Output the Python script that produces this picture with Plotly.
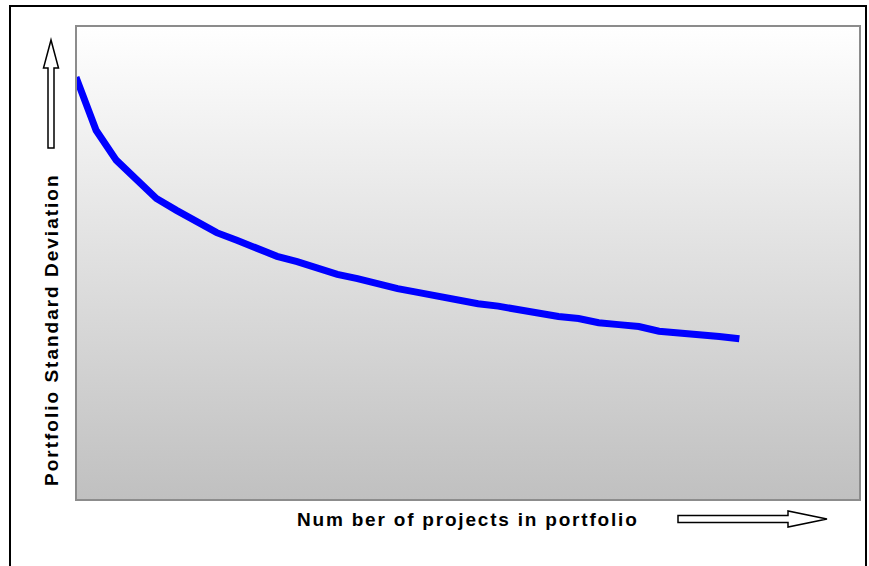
import plotly.graph_objects as go

# Number of projects held in the portfolio
projects = list(range(1, 35))

# Portfolio standard deviation (relative units, 0-100 scale)
std_dev = [89.2, 78.0, 71.7, 67.7, 63.6, 61.1, 58.6, 56.4, 54.8, 53.1,
           51.4, 50.3, 48.8, 47.6, 46.7, 45.5, 44.6, 43.8, 42.9, 42.1,
           41.4, 40.9, 40.1, 39.4, 38.7, 38.3, 37.4, 37.0, 36.6, 35.6,
           35.3, 34.9, 34.5, 34.0]

x_range = [1, 40]
y_range = [0, 100]

x_title = "Num ber of projects in portfolio"
y_title = "Portfolio Standard Deviation"

W, H = 869, 566
PLOT_L, PLOT_R, PLOT_T, PLOT_B = 76, 860, 26, 500


def px(x):
    return x / W


def py(y):
    return 1 - y / H


fig = go.Figure()

# Plot-area background: vertical grey gradient
fig.add_trace(go.Scatter(
    x=[x_range[0], x_range[1], x_range[1], x_range[0], x_range[0]],
    y=[y_range[0], y_range[0], y_range[1], y_range[1], y_range[0]],
    mode="lines", line=dict(width=0), fill="toself",
    fillgradient=dict(type="vertical",
                      colorscale=[[0, "#c0c0c0"], [1, "#ffffff"]]),
    hoverinfo="skip", showlegend=False,
))

# Diversification curve
fig.add_trace(go.Scatter(
    x=projects, y=std_dev, mode="lines",
    line=dict(color="#0000ff", width=7),
    showlegend=False,
))

shapes = []
# plot-area frame
shapes.append(dict(type="rect", xref="paper", yref="paper",
                   x0=px(PLOT_L), x1=px(PLOT_R), y0=py(PLOT_B), y1=py(PLOT_T),
                   line=dict(color="#8c8c8c", width=2), layer="above"))
# outer border (open at the bottom)
shapes.append(dict(type="path", xref="paper", yref="paper",
                   path=f"M {px(10)} {py(H + 5)} L {px(10)} {py(6)} "
                        f"L {px(866)} {py(6)} L {px(866)} {py(H + 5)}",
                   line=dict(color="black", width=2)))


def arrow_path(points):
    d = "M " + " L ".join(f"{px(a)} {py(b)}" for a, b in points) + " Z"
    return d


# upward arrow beside the y title
up = [(48, 148), (54, 148), (54, 68), (58.5, 68), (51, 40), (43.5, 68), (48, 68)]
shapes.append(dict(type="path", xref="paper", yref="paper", path=arrow_path(up),
                   fillcolor="white", line=dict(color="black", width=1.5)))
# rightward arrow beside the x title
right = [(678, 515.5), (788, 515.5), (788, 511), (827, 519), (788, 527),
         (788, 522.5), (678, 522.5)]
shapes.append(dict(type="path", xref="paper", yref="paper", path=arrow_path(right),
                   fillcolor="white", line=dict(color="black", width=1.5)))

label_font = dict(family="Arial, Liberation Sans, sans-serif", size=19,
                  color="black", weight="bold")
annotations = [
    dict(text=f'<span style="letter-spacing:1.8px">{x_title}</span>',
         xref="paper", yref="paper", x=px(467.5), y=py(519),
         xanchor="center", yanchor="middle", showarrow=False, font=label_font),
    dict(text=f'<span style="letter-spacing:2px">{y_title}</span>',
         xref="paper", yref="paper", x=px(51), y=py(330), textangle=-90,
         xanchor="center", yanchor="middle", showarrow=False, font=label_font),
]

axis_common = dict(showgrid=False, zeroline=False, showline=False,
                   showticklabels=False, ticks="", fixedrange=True)
fig.update_layout(
    width=W, height=H, autosize=False,
    margin=dict(l=0, r=0, t=0, b=0),
    paper_bgcolor="white", plot_bgcolor="white",
    xaxis=dict(range=x_range, domain=[px(PLOT_L), px(PLOT_R)], **axis_common),
    yaxis=dict(range=y_range, domain=[py(PLOT_B), py(PLOT_T)], **axis_common),
    shapes=shapes, annotations=annotations,
)

fig.write_html("out.html")
